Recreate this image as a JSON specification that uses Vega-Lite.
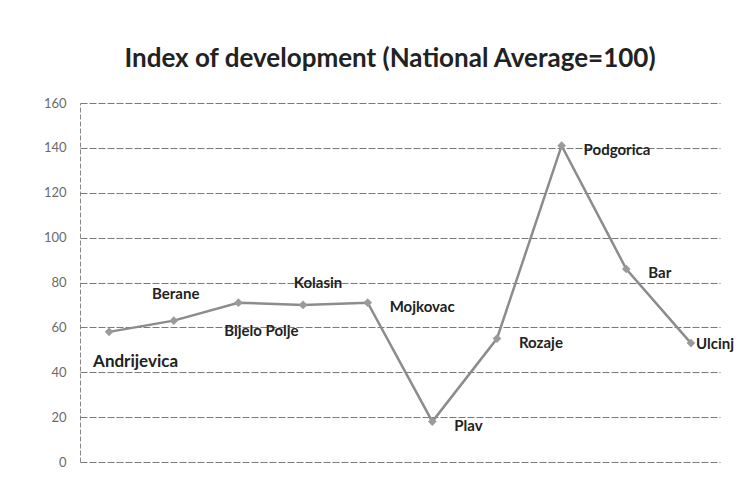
{
  "$schema": "https://vega.github.io/schema/vega-lite/v6.json",
  "autosize": {"type": "none"},
  "width": 640,
  "height": 359,
  "padding": {"left": 80, "top": 103, "right": 25, "bottom": 33},
  "background": "white",
  "title": {
    "text": "Index of development (National Average=100)",
    "font": "Lato",
    "fontSize": 26,
    "fontWeight": "bold",
    "color": "#222222",
    "anchor": "middle",
    "offset": 25,
    "dx": -10
  },
  "data": {
    "values": [
      {"town": "Andrijevica", "index": 58},
      {"town": "Berane", "index": 63},
      {"town": "Bijelo Polje", "index": 71},
      {"town": "Kolasin", "index": 70},
      {"town": "Mojkovac", "index": 71},
      {"town": "Plav", "index": 18},
      {"town": "Rozaje", "index": 55},
      {"town": "Podgorica", "index": 141},
      {"town": "Bar", "index": 86},
      {"town": "Ulcinj", "index": 53}
    ]
  },
  "encoding": {
    "x": {
      "field": "town",
      "type": "nominal",
      "sort": null,
      "scale": {"type": "point", "padding": 0.45},
      "axis": null
    },
    "y": {
      "field": "index",
      "type": "quantitative",
      "scale": {"domain": [0, 160], "nice": false},
      "axis": {
        "title": null,
        "values": [0, 20, 40, 60, 80, 100, 120, 140, 160],
        "labelFont": "Lato",
        "labelFontSize": 13,
        "labelColor": "#6a6a6a",
        "labelPadding": 14,
        "ticks": false,
        "domain": true,
        "domainColor": "#888888",
        "domainDash": [5, 2],
        "grid": true,
        "gridColor": "#7a7a7a",
        "gridDash": [7, 2],
        "gridWidth": 1
      }
    }
  },
  "layer": [
    {
      "mark": {"type": "line", "color": "#8c8c8c", "strokeWidth": 2.5}
    },
    {
      "mark": {"type": "point", "shape": "diamond", "filled": true, "color": "#9a9a9a", "size": 75, "opacity": 1}
    },
    {
      "transform": [{"filter": {"field": "town", "oneOf": ["Andrijevica"]}}],
      "mark": {"type": "text", "font": "Lato", "fontWeight": "bold", "fontSize": 17, "color": "#222222", "align": "left", "dx": -16, "dy": 30},
      "encoding": {"text": {"field": "town"}}
    },
    {
      "transform": [{"filter": {"field": "town", "oneOf": ["Berane"]}}],
      "mark": {"type": "text", "font": "Lato", "fontWeight": "bold", "fontSize": 15, "color": "#222222", "align": "center", "dx": 2, "dy": -27},
      "encoding": {"text": {"field": "town"}}
    },
    {
      "transform": [{"filter": {"field": "town", "oneOf": ["Kolasin"]}}],
      "mark": {"type": "text", "font": "Lato", "fontWeight": "bold", "fontSize": 15, "color": "#222222", "align": "center", "dx": 15, "dy": -22},
      "encoding": {"text": {"field": "town"}}
    },
    {
      "transform": [{"filter": {"field": "town", "oneOf": ["Bijelo Polje"]}}],
      "mark": {"type": "text", "font": "Lato", "fontWeight": "bold", "fontSize": 15, "color": "#222222", "align": "center", "dx": 23, "dy": 28},
      "encoding": {"text": {"field": "town"}}
    },
    {
      "transform": [{"filter": {"field": "town", "oneOf": ["Mojkovac", "Rozaje", "Podgorica", "Bar", "Plav"]}}],
      "mark": {"type": "text", "font": "Lato", "fontWeight": "bold", "fontSize": 15, "color": "#222222", "align": "left", "dx": 22, "dy": 4},
      "encoding": {"text": {"field": "town"}}
    },
    {
      "transform": [{"filter": {"field": "town", "oneOf": ["Ulcinj"]}}],
      "mark": {"type": "text", "font": "Lato", "fontWeight": "bold", "fontSize": 15, "color": "#222222", "align": "left", "dx": 5, "dy": 1},
      "encoding": {"text": {"field": "town"}}
    }
  ],
  "config": {"view": {"stroke": null}}
}
